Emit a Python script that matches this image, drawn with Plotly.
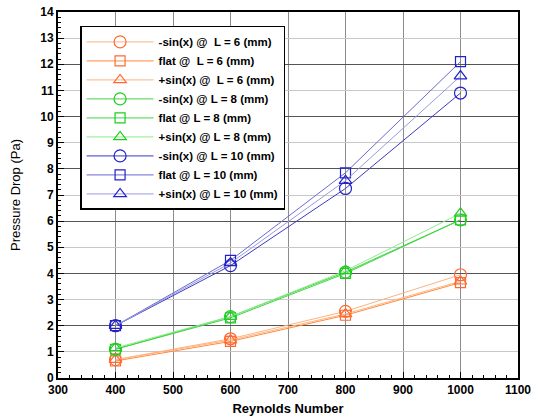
import plotly.graph_objects as go

reynolds = [400, 600, 800, 1000]

neg6 = [0.70, 1.50, 2.55, 3.95]
flat6 = [0.65, 1.40, 2.40, 3.65]
pos6 = [0.70, 1.45, 2.45, 3.70]

neg8 = [1.10, 2.35, 4.05, 6.05]
flat8 = [1.10, 2.30, 4.00, 6.05]
pos8 = [1.15, 2.35, 4.10, 6.30]

neg10 = [2.00, 4.30, 7.25, 10.90]
flat10 = [2.00, 4.50, 7.85, 12.10]
pos10 = [2.00, 4.40, 7.55, 11.55]

names = [
    "-sin(x) @  L = 6 (mm)", "flat @  L = 6 (mm)", "+sin(x) @  L = 6 (mm)",
    "-sin(x) @ L = 8 (mm)", "flat @ L = 8 (mm)", "+sin(x) @ L = 8 (mm)",
    "-sin(x) @ L = 10 (mm)", "flat @ L = 10 (mm)", "+sin(x) @ L = 10 (mm)",
]
series = [neg6, flat6, pos6, neg8, flat8, pos8, neg10, flat10, pos10]
symbols = ["circle-open", "square-open", "triangle-up-open"] * 3
marker_sizes = [12, 10, 11] * 3
line_colors = ["#FFB27F", "#FF8A3D", "#FFB27F",
               "#44D444", "#44D444", "#8CEB8C",
               "#3A3AC0", "#6A6AD0", "#9A9AE0"]
marker_colors = ["#FF6A33"] * 3 + ["#22CC22"] * 3 + ["#2222CC"] * 3

fig = go.Figure()
for nm, ys, sym, ms, lc, mc in zip(names, series, symbols, marker_sizes, line_colors, marker_colors):
    fig.add_trace(go.Scatter(
        x=reynolds, y=ys, name=nm, mode="lines+markers",
        line=dict(color=lc, width=1),
        marker=dict(symbol=sym, size=ms, color=mc, line=dict(color=mc, width=1.2)),
    ))

# invisible trace on y2 to host the darker even-value grid
fig.add_trace(go.Scatter(x=[300], y=[0], yaxis="y2", showlegend=False,
                         mode="markers", marker=dict(opacity=0), hoverinfo="skip"))

font_family = "Liberation Sans, Arial, sans-serif"
fig.update_layout(
    width=536, height=416,
    margin=dict(l=58, r=18, t=12, b=38, autoexpand=False),
    paper_bgcolor="white", plot_bgcolor="white",
    font=dict(family=font_family, color="black"),
    showlegend=True,
    legend=dict(
        x=0.048, y=0.962, xanchor="left", yanchor="top",
        bgcolor="white", bordercolor="black", borderwidth=1.5,
        font=dict(size=11.5, family=font_family, color="black", weight="bold"),
        tracegroupgap=0, itemwidth=67,
    ),
    xaxis=dict(
        range=[300, 1100], dtick=100, tick0=300, automargin=False,
        showgrid=True, gridcolor="#8c8c8c", gridwidth=1,
        showline=True, linecolor="black", linewidth=2, mirror=True,
        ticks="inside", ticklen=6, tickcolor="black",
        minor=dict(dtick=20, ticks="inside", ticklen=3, tickcolor="black", showgrid=False),
        tickfont=dict(size=12, weight="bold"), ticklabeloverflow="allow",
        title=dict(text="Reynolds Number", font=dict(size=13, weight="bold"), standoff=7),
        zeroline=False,
    ),
    yaxis=dict(
        range=[0, 14], dtick=1, tick0=0, automargin=False,
        showgrid=True, gridcolor="#c8c8c8", gridwidth=1,
        showline=True, linecolor="black", linewidth=2, mirror=True,
        ticks="inside", ticklen=6, tickcolor="black",
        minor=dict(dtick=0.2, ticks="inside", ticklen=3, tickcolor="black", showgrid=False),
        tickfont=dict(size=12, weight="bold"), ticklabeloverflow="allow",
        title=dict(text="Pressure Drop (Pa)", font=dict(size=13), standoff=17),
        zeroline=False,
    ),
    yaxis2=dict(
        overlaying="y", range=[0, 14], dtick=2, tick0=0, automargin=False,
        showgrid=True, gridcolor="#555555", gridwidth=1,
        showticklabels=False, ticks="", zeroline=False, showline=False,
    ),
)

fig.write_html("out.html", config={"displayModeBar": False},
               post_script="document.body.style.margin='0px';")
